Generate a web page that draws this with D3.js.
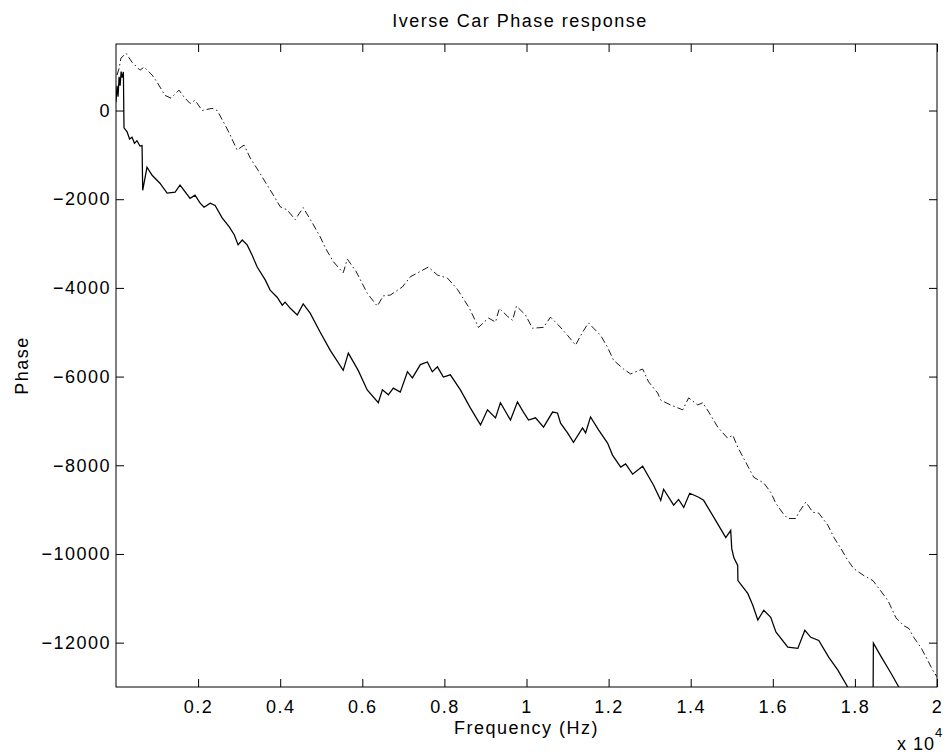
<!DOCTYPE html>
<html>
<head>
<meta charset="utf-8">
<script src="https://cdn.jsdelivr.net/npm/d3@7"></script>
<style>
  body { margin: 0; background: #fff; }
  svg text { font-family: "Liberation Sans", Arial, Helvetica, sans-serif; font-size: 18px; letter-spacing: 1.5px; fill: #000; }
</style>
</head>
<body>
<svg id="plot" width="946" height="755"></svg>
<script>
"use strict";

// solid curve (Hz, phase)
const solidFreq = [0, 25, 50, 75, 100, 125, 150, 180, 195, 270, 330, 390, 450, 510, 585, 635, 650, 755, 880, 1070, 1245, 1440, 1560, 1805, 1925, 2050, 2145, 2295, 2415, 2585, 2755, 2880, 2975, 3075, 3195, 3315, 3440, 3635, 3755, 3925, 4050, 4120, 4245, 4415, 4560, 4730, 4975, 5220, 5535, 5660, 5900, 6120, 6390, 6490, 6635, 6755, 6925, 7100, 7220, 7415, 7585, 7705, 7830, 7975, 8145, 8390, 8635, 8880, 9050, 9245, 9365, 9610, 9780, 9925, 10050, 10220, 10415, 10635, 10755, 10830, 11000, 11145, 11365, 11440, 11560, 11755, 11975, 12095, 12295, 12415, 12585, 12830, 13095, 13270, 13340, 13585, 13705, 13830, 13975, 14195, 14315, 14560, 14855, 14975, 15000, 15050, 15145, 15150, 15390, 15510, 15635, 15780, 15950, 16075, 16365, 16610, 16780, 16925, 17120, 17365, 17585, 17830, 17950, 18145, 18390, 18440, 18450, 18635, 18880, 19075, 19245, 19500, 20000];
const solidPhase = [190, 560, 310, 760, 560, 880, 740, 870, -390, -480, -640, -600, -740, -680, -800, -790, -1800, -1280, -1460, -1640, -1860, -1840, -1680, -1980, -1910, -2090, -2180, -2090, -2140, -2420, -2620, -2800, -3030, -2920, -3030, -3260, -3530, -3820, -4050, -4210, -4390, -4320, -4460, -4610, -4360, -4570, -5000, -5410, -5860, -5470, -5860, -6300, -6590, -6300, -6410, -6260, -6350, -5890, -6030, -5730, -5670, -5890, -5780, -6010, -5960, -6300, -6710, -7090, -6750, -6930, -6590, -6980, -6570, -6800, -6980, -6930, -7140, -6800, -6820, -7050, -7270, -7480, -7160, -7270, -6910, -7200, -7500, -7770, -8040, -7970, -8200, -8020, -8450, -8790, -8540, -8900, -8770, -8950, -8630, -8720, -8790, -9170, -9630, -9470, -9880, -10080, -10260, -10600, -10890, -11150, -11490, -11270, -11430, -11760, -12100, -12130, -11720, -11880, -11950, -12330, -12620, -13010, -13230, -13530, -13750, -13750, -12010, -12310, -12690, -13010, -13190, -13410, -13750];

// dash-dot curve (Hz, phase)
const dashFreq = [25, 75, 120, 245, 390, 585, 685, 880, 1000, 1195, 1340, 1535, 1660, 1805, 1925, 2100, 2340, 2465, 2660, 2780, 2950, 3120, 3270, 3490, 3635, 3855, 4000, 4170, 4365, 4560, 4780, 4975, 5100, 5295, 5535, 5635, 5855, 6120, 6365, 6510, 6685, 6975, 7170, 7610, 7830, 8075, 8315, 8610, 8830, 9075, 9245, 9340, 9535, 9660, 9755, 9975, 10145, 10415, 10585, 10780, 11000, 11195, 11365, 11510, 11635, 11805, 11975, 12120, 12365, 12535, 12830, 12975, 13195, 13270, 13510, 13805, 13950, 14170, 14295, 14440, 14660, 14900, 15025, 15145, 15340, 15535, 15780, 15950, 16075, 16245, 16365, 16560, 16635, 16805, 16975, 17120, 17340, 17490, 17660, 17830, 17975, 18220, 18440, 18585, 18805, 19000, 19195, 19315, 19440, 19610, 19780, 19900, 20000];
const dashPhase = [800, 950, 1180, 1290, 1090, 910, 980, 800, 640, 340, 280, 460, 300, 160, 230, 0, 50, 0, -330, -550, -890, -780, -1070, -1390, -1610, -1940, -2170, -2240, -2460, -2190, -2530, -2850, -3100, -3410, -3660, -3350, -3640, -4120, -4410, -4180, -4160, -3980, -3750, -3530, -3710, -3780, -4030, -4460, -4890, -4680, -4770, -4460, -4640, -4730, -4410, -4610, -4910, -4890, -4660, -4840, -5070, -5290, -5000, -4790, -4910, -5070, -5340, -5630, -5830, -5940, -5830, -6120, -6370, -6530, -6640, -6750, -6480, -6640, -6590, -6800, -7140, -7390, -7320, -7590, -7930, -8270, -8400, -8610, -8860, -9080, -9200, -9200, -9060, -8830, -9060, -9080, -9350, -9630, -9880, -10150, -10330, -10490, -10600, -10780, -11050, -11440, -11620, -11680, -11890, -12110, -12410, -12630, -12770];

const xTicks = [2000, 4000, 6000, 8000, 10000, 12000, 14000, 16000, 18000, 20000];
const yTicks = [0, -2000, -4000, -6000, -8000, -10000, -12000];

const margin = { left: 116, right: 9, top: 44, bottom: 68 };
const width = 946 - margin.left - margin.right;
const height = 755 - margin.top - margin.bottom;

let svg = d3.select("svg#plot");

let x = d3.scaleLinear().domain([0, 20000]).range([0, width]);
let y = d3.scaleLinear().domain([-13000, 1500]).range([height, 0]);

let g = svg.append("g").attr("transform", `translate(${margin.left},${margin.top})`);

g.append("clipPath").attr("id", "clip")
  .append("rect").attr("width", width).attr("height", height);

// lines
let line = d3.line().x((d) => x(d[0])).y((d) => y(d[1]));

let solid = solidFreq.map((f, i) => [f, solidPhase[i]]);
let dash = dashFreq.map((f, i) => [f, dashPhase[i]]);

g.append("path")
  .datum(dash)
  .attr("clip-path", "url(#clip)")
  .attr("fill", "none")
  .attr("stroke", "#000")
  .attr("stroke-width", 0.9)
  .attr("stroke-dasharray", "7,3,1.5,3")
  .attr("d", line);

g.append("path")
  .datum(solid)
  .attr("clip-path", "url(#clip)")
  .attr("fill", "none")
  .attr("stroke", "#000")
  .attr("stroke-width", 1.25)
  .attr("d", line);

// axes, matlab style: inward ticks on all four sides
let fmtX = (d) => String(+(d / 1e4).toFixed(1));

g.append("g")
  .attr("transform", `translate(0,${height})`)
  .call(d3.axisBottom(x).tickValues(xTicks).tickSize(-8).tickPadding(13).tickFormat(fmtX));
g.append("g")
  .call(d3.axisTop(x).tickValues(xTicks).tickSize(-8).tickFormat(""));
g.append("g")
  .call(d3.axisLeft(y).tickValues(yTicks).tickSize(-8).tickPadding(5).tickFormat(d3.format("d")));
g.append("g")
  .attr("transform", `translate(${width},0)`)
  .call(d3.axisRight(y).tickValues(yTicks).tickSize(-8).tickFormat(""));

g.selectAll(".domain").remove();
g.selectAll(".tick line").attr("stroke", "#000");
g.selectAll(".tick text").style("font-size", "18px");

g.append("rect")
  .attr("width", width)
  .attr("height", height)
  .attr("fill", "none")
  .attr("stroke", "#000")
  .attr("stroke-width", 1);

// labels
svg.append("text")
  .attr("x", 520)
  .attr("y", 27)
  .attr("text-anchor", "middle")
  .text("Iverse Car Phase response");

svg.append("text")
  .attr("x", margin.left + width / 2)
  .attr("y", 734)
  .attr("text-anchor", "middle")
  .text("Frequency (Hz)");

svg.append("text")
  .attr("transform", `translate(28,${margin.top + height / 2}) rotate(-90)`)
  .attr("text-anchor", "middle")
  .text("Phase");

let sci = svg.append("text").attr("x", 897).attr("y", 750).style("letter-spacing", "1px");
sci.append("tspan").text("x 10");
sci.append("tspan").attr("dy", -13).style("font-size", "13px").text("4");
</script>
</body>
</html>
